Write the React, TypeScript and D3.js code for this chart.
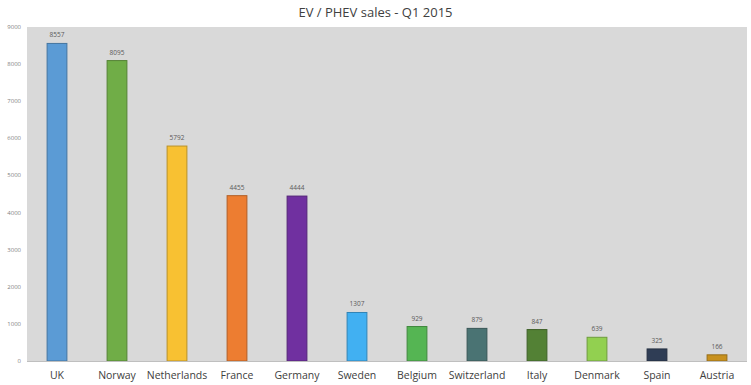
import React from "react";
import * as d3 from "d3";

const countries = ["UK", "Norway", "Netherlands", "France", "Germany", "Sweden", "Belgium", "Switzerland", "Italy", "Denmark", "Spain", "Austria"];
const sales = [8557, 8095, 5792, 4455, 4444, 1307, 929, 879, 847, 639, 325, 166];
const colors = ["#5b9bd5", "#70ad47", "#f8c132", "#ed7d31", "#7030a0", "#41b0f2", "#55b553", "#4a7373", "#538135", "#92d050", "#2f3d55", "#c8911e"];
const yTicks = [0, 1000, 2000, 3000, 4000, 5000, 6000, 7000, 8000, 9000];
const title = "EV / PHEV sales - Q1 2015";

const W = 751, H = 385;
const left = 27, right = 747, top = 27, bottom = 361;

export default function App() {
  const x = d3.scaleBand().domain(countries).range([left, right]).paddingInner(0.67).paddingOuter(0.335);
  const y = d3.scaleLinear().domain([0, 9000]).range([bottom, top]);
  const font = "Open Sans, Liberation Sans, sans-serif";
  return (
    <svg width={W} height={H} style={{ position: "absolute", left: 0, top: 0, background: "#fff" }}>
      <rect x={0} y={0} width={W} height={H} fill="#fff" />
      <text x={W / 2} y={17} textAnchor="middle" fontFamily={font} fontSize={13} fill="#404040">{title}</text>
      <rect x={left} y={top} width={right - left} height={bottom - top} fill="#d9d9d9" />
      {yTicks.map(t => (
        <text key={t} x={21} y={y(t) + 2} textAnchor="end" fontFamily={font} fontSize={6} fill="#7f7f7f">{t}</text>
      ))}
      {countries.map((c, i) => {
        const bx = x(c)!;
        const bw = x.bandwidth();
        const v = sales[i];
        return (
          <g key={c}>
            <rect x={bx} y={y(v)} width={bw} height={bottom - y(v)} fill={colors[i]}
              stroke={d3.color(colors[i])!.darker(0.8).toString()} strokeWidth={1} />
            <text x={bx + bw / 2} y={y(v) - 6} textAnchor="middle" fontFamily={font} fontSize={6.5} fill="#595959">{v}</text>
            <text x={bx + bw / 2} y={379} textAnchor="middle" fontFamily={font} fontSize={10.5} fill="#404040">{c}</text>
          </g>
        );
      })}
      <line x1={left} x2={right} y1={bottom + 0.5} y2={bottom + 0.5} stroke="#bfbfbf" strokeWidth={1} />
    </svg>
  );
}
